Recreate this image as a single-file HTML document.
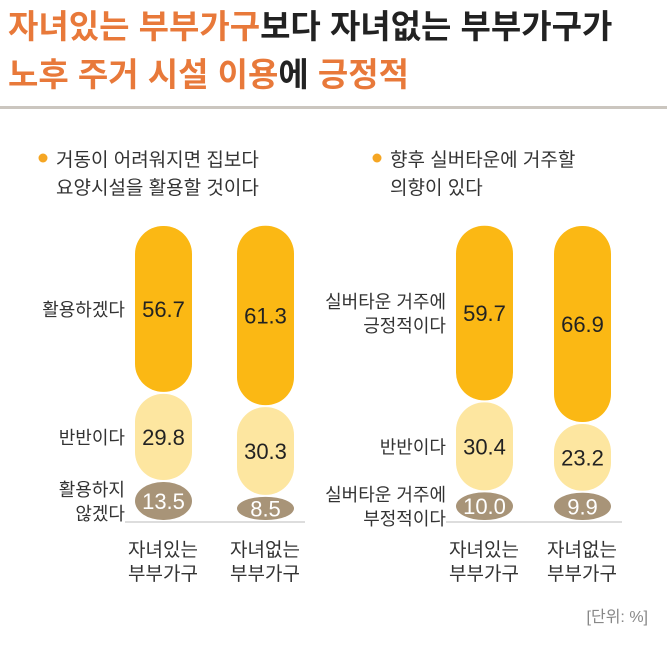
<!DOCTYPE html>
<html><head><meta charset="utf-8"><style>
body{margin:0;background:#fff;width:667px;height:642px;overflow:hidden;font-family:"Liberation Sans","Noto Sans CJK KR",sans-serif}
</style></head><body>
<svg width="667" height="642" xmlns="http://www.w3.org/2000/svg" font-family="Liberation Sans, Noto Sans CJK KR, sans-serif">
<text x="8" y="38" font-size="33" font-weight="bold" fill="#222"><tspan fill="#E8793A">자녀있는 부부가구</tspan>보다 자녀없는 부부가구가</text>
<text x="8" y="86" font-size="33" font-weight="bold" fill="#222"><tspan fill="#E8793A">노후 주거 시설 이용</tspan>에 <tspan fill="#E8793A">긍정적</tspan></text>
<rect x="0" y="106" width="667" height="3" fill="#cbc6bf"/>
<circle cx="43" cy="158" r="4.5" fill="#F5A623"/>
<text x="56" y="166" font-size="19" fill="#333">거동이 어려워지면 집보다</text>
<text x="56" y="194" font-size="19" fill="#333">요양시설을 활용할 것이다</text>
<circle cx="377" cy="158" r="4.5" fill="#F5A623"/>
<text x="390" y="166" font-size="19" fill="#333">향후 실버타운에 거주할</text>
<text x="390" y="194" font-size="19" fill="#333">의향이 있다</text>
<g id="bars"></g>
<text x="648" y="622" font-size="16" fill="#888" text-anchor="end">[단위: %]</text>
</svg>
<script>
const groups=["자녀있는 부부가구","자녀없는 부부가구"];
const positiveLeft=[56.7,61.3];
const neutralLeft=[29.8,30.3];
const negativeLeft=[13.5,8.5];
const positiveRight=[59.7,66.9];
const neutralRight=[30.4,23.2];
const negativeRight=[10.0,9.9];
const labelsLeft=[["활용하겠다"],["반반이다"],["활용하지","않겠다"]];
const labelsRight=[["실버타운 거주에","긍정적이다"],["반반이다"],["실버타운 거주에","부정적이다"]];
const NS="http://www.w3.org/2000/svg";
const g=document.getElementById('bars');
const baseY=521, topY=225, scale=(baseY-topY)/100;
const y=v=>baseY-v*scale;
const colors=["#FBB814","#FDE6A0","#A89478"];
const txtCol=["#222","#222","#fff"];
function mk(t,a){const e=document.createElementNS(NS,t);for(const k in a)e.setAttribute(k,a[k]);g.appendChild(e);return e;}
function panel(xs,series,labels,labelX,key){
  const l=mk('line',{x1:xs[0]-10,x2:xs[1]+68,y1:baseY+1,y2:baseY+1,stroke:'#bbb','stroke-width':1});
  
  
  xs.forEach((x,i)=>{
    let cum=0;
    const vals=[series[2][i],series[1][i],series[0][i]];
    const ci=[2,1,0];
    vals.forEach((v,j)=>{
      const y0=y(cum), y1=y(cum+v); cum+=v;
      const h=y0-y1-2, w=57;
      const r=mk('rect',{x:x,y:y1+1,width:w,height:h,rx:Math.min(28,w/2),ry:Math.min(28,h/2),fill:colors[ci[j]]});
      
      
      const t=mk('text',{x:x+w/2,y:(y0+y1)/2+8,'font-size':22,'text-anchor':'middle',fill:txtCol[ci[j]]});
      t.textContent=v.toFixed(1);
      
      
    });
    const parts=groups[i].split(' ');
    parts.forEach((p,k)=>{
      const t=mk('text',{x:x+28,y:556+k*24,'font-size':19,'text-anchor':'middle',fill:'#333'});
      t.textContent=p;
      
      
    });
  });
  // row labels at first bar's segment centers
  let cum=0; const centers=[];
  [series[2][0],series[1][0],series[0][0]].forEach(v=>{centers.push(y(cum+v/2));cum+=v;});
  const cs=[centers[2],centers[1],centers[0]];
  labels.forEach((ln,k)=>{
    ln.forEach((s,m)=>{
      const t=mk('text',{x:labelX,y:cs[k]+7+(m-(ln.length-1)/2)*24,'font-size':18,'text-anchor':'end',fill:'#333'});
      t.textContent=s;
      
      
    });
  });
}
panel([135,237],[positiveLeft,neutralLeft,negativeLeft],labelsLeft,125,'left');
panel([456,554],[positiveRight,neutralRight,negativeRight],labelsRight,446,'right');
</script>
</body></html>
